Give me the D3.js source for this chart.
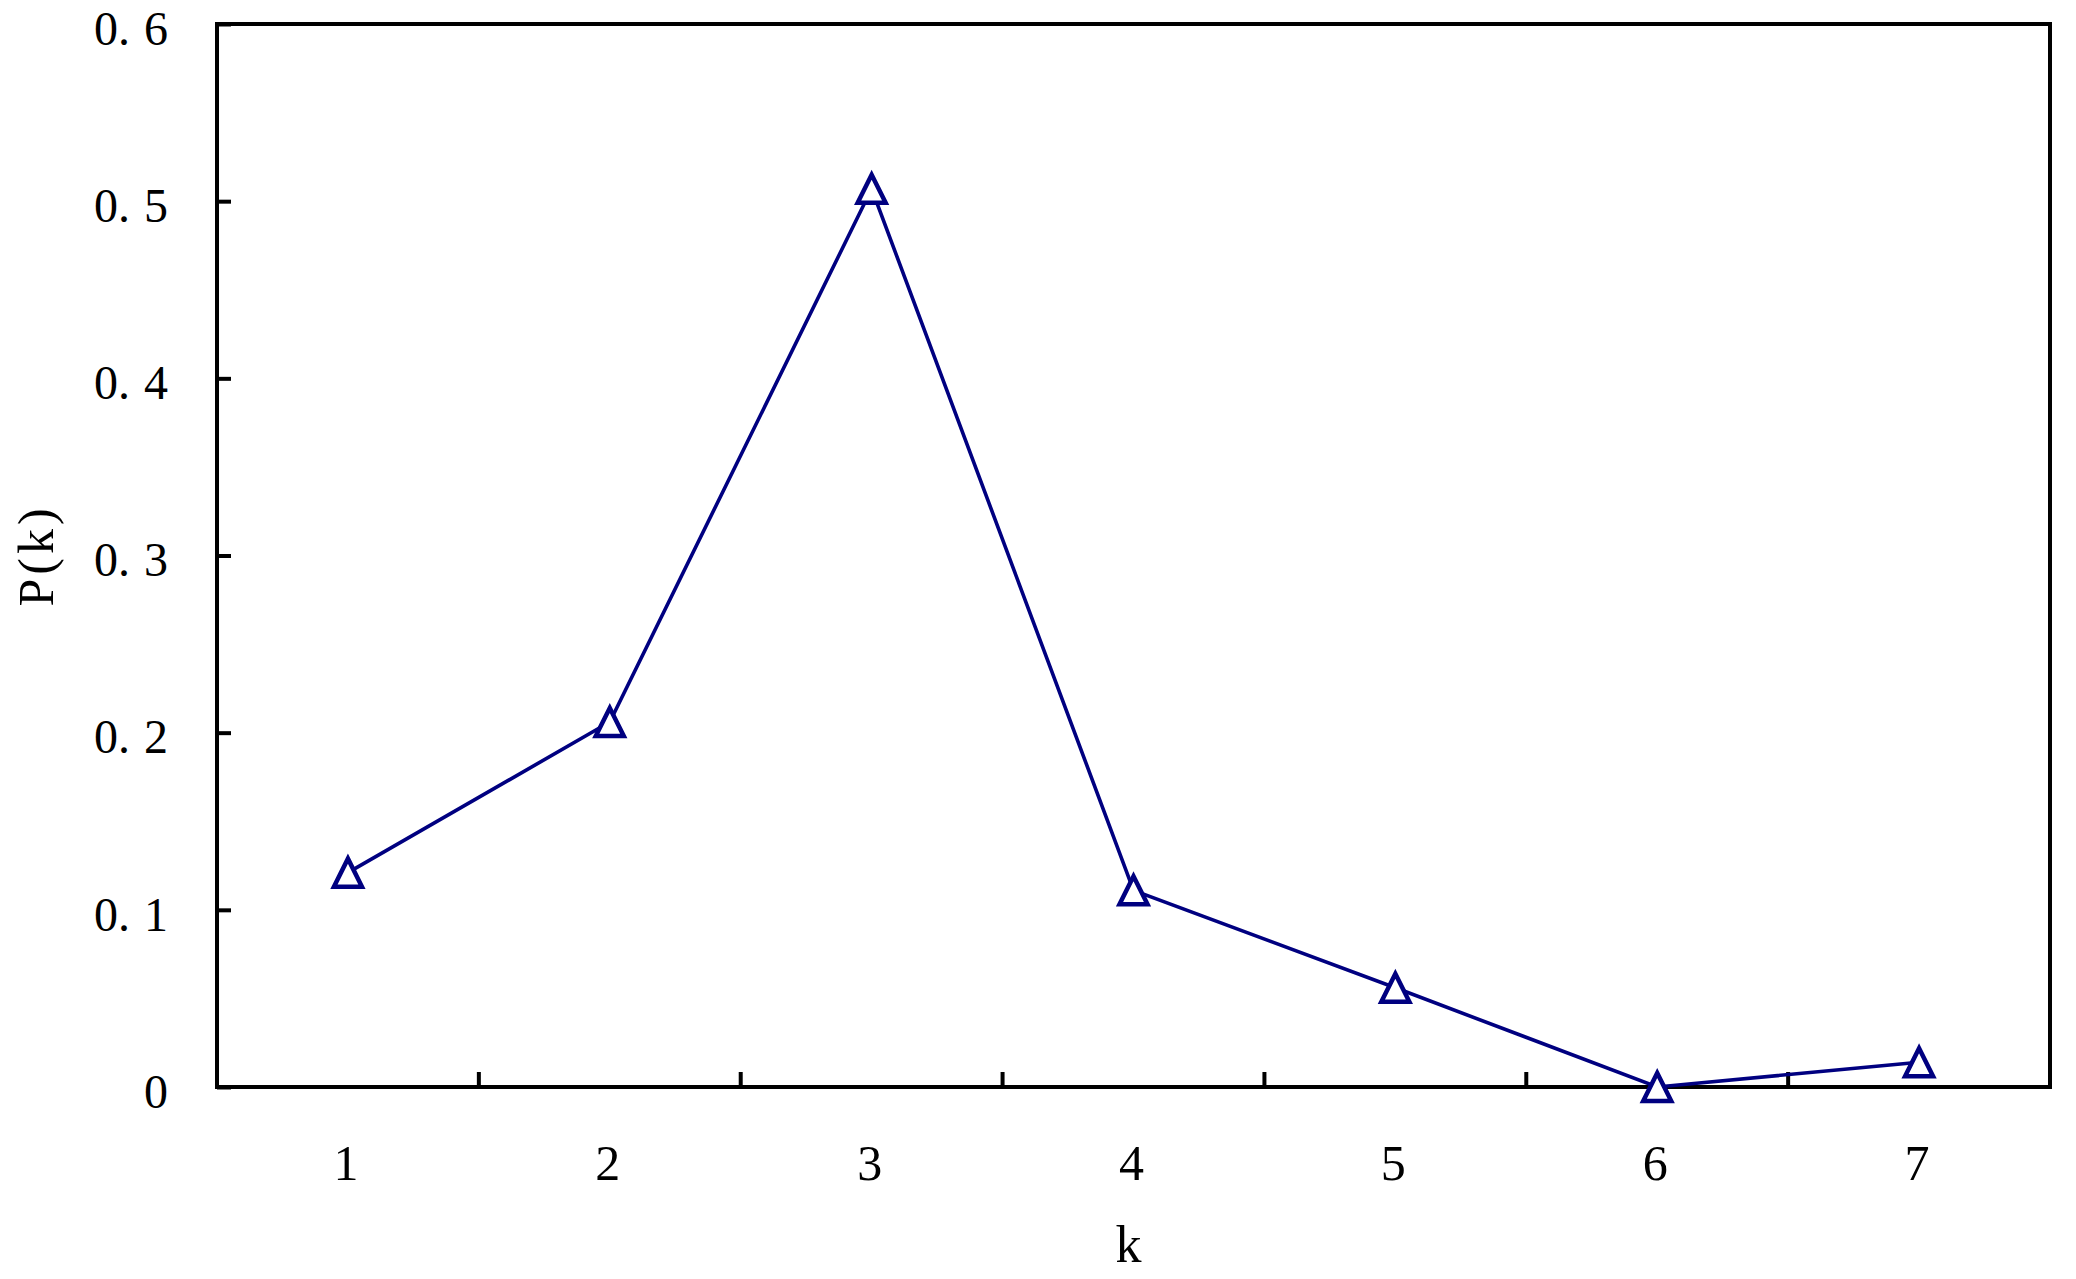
<!DOCTYPE html>
<html>
<head>
<meta charset="utf-8">
<script src="https://cdn.jsdelivr.net/npm/d3@7"></script>
<style>
  body { margin: 0; background: #fff; }
  text { font-family: "Liberation Serif", "DejaVu Serif", serif; fill: #000; }
</style>
</head>
<body>
<div id="chart"></div>
<script>
// data
var categories = ["1", "2", "3", "4", "5", "6", "7"];
var values = [0.121, 0.206, 0.507, 0.111, 0.056, 0.0, 0.014];
var yTicks = [0, 0.1, 0.2, 0.3, 0.4, 0.5, 0.6];
var yTickLabels = ["0", "0.1", "0.2", "0.3", "0.4", "0.5", "0.6"];

var W = 2076, H = 1279;
var margin = {top: 24, right: 26, bottom: 192, left: 217};
var width = W - margin.left - margin.right;
var height = H - margin.top - margin.bottom;

var svg = d3.select("#chart").append("svg")
    .attr("width", W)
    .attr("height", H);

var g = svg.append("g")
    .attr("transform", "translate(" + margin.left + "," + margin.top + ")");

var x = d3.scaleBand()
    .domain(categories)
    .range([0, width]);

var y = d3.scaleLinear()
    .domain([0, 0.6])
    .range([height, 0]);

// y axis, ticks pointing inward
var yAxis = d3.axisLeft(y)
    .tickValues(yTicks)
    .tickSize(-14)
    .tickPadding(49)
    .tickFormat(function (d, i) { return yTickLabels[i]; });

var yg = g.append("g").attr("class", "yAxis").call(yAxis);
yg.select(".domain").remove();
yg.selectAll(".tick line").attr("stroke", "#000").attr("stroke-width", 4);
yg.selectAll(".tick text")
    .attr("font-size", 48)
    .attr("dy", "0.42em")
    .each(function () {
        // wide gap after the decimal point, as in the original
        var t = d3.select(this), s = t.text();
        var p = s.indexOf(".");
        if (p < 0) return;
        t.text(null);
        t.append("tspan").text(s.slice(0, p + 1));
        t.append("tspan").attr("dx", 14).text(s.slice(p + 1));
    });

// x axis labels at band centers
var xAxis = d3.axisBottom(x).tickSize(0);
var xg = g.append("g").attr("class", "xAxis")
    .attr("transform", "translate(0," + height + ")")
    .call(xAxis);
xg.select(".domain").remove();
xg.selectAll(".tick text")
    .attr("font-size", 50)
    .attr("y", 93)
    .attr("dy", 0)
    .attr("dx", -2);

// x ticks between bands, pointing up
g.append("g").selectAll("line")
    .data(categories.slice(1))
    .enter().append("line")
    .attr("x1", function (d) { return x(d); })
    .attr("x2", function (d) { return x(d); })
    .attr("y1", height)
    .attr("y2", height - 15)
    .attr("stroke", "#000")
    .attr("stroke-width", 4);

// frame
g.append("rect")
    .attr("x", 0).attr("y", 0)
    .attr("width", width).attr("height", height)
    .attr("fill", "none")
    .attr("stroke", "#000")
    .attr("stroke-width", 4);

// axis titles
svg.append("text")
    .attr("x", margin.left + width / 2 - 5)
    .attr("y", 1262)
    .attr("text-anchor", "middle")
    .attr("font-size", 52)
    .text("k");

svg.append("text")
    .attr("transform", "translate(53," + (margin.top + height / 2) + ") rotate(-90)")
    .attr("text-anchor", "middle")
    .attr("font-size", 50)
    .attr("letter-spacing", 4)
    .text("P(k)");

// line
var pts = categories.map(function (c, i) { return {k: c, v: values[i]}; });

var line = d3.line()
    .x(function (d) { return x(d.k) + x.bandwidth() / 2; })
    .y(function (d) { return y(d.v); });

g.append("path")
    .datum(pts)
    .attr("d", line)
    .attr("fill", "none")
    .attr("stroke", "#000080")
    .attr("stroke-width", 3.6);

// triangle markers
var tri = "M0,-14L14,14L-14,14Z";
g.append("g").selectAll("path")
    .data(pts)
    .enter().append("path")
    .attr("d", tri)
    .attr("transform", function (d) {
        return "translate(" + (x(d.k) + x.bandwidth() / 2) + "," + y(d.v) + ")";
    })
    .attr("fill", "#fff")
    .attr("stroke", "#000080")
    .attr("stroke-width", 4.5);
</script>
</body>
</html>
